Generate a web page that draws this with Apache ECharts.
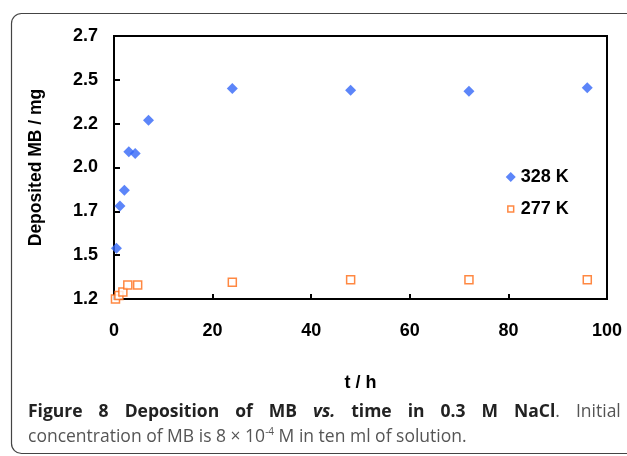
<!DOCTYPE html>
<html>
	<head>
		<meta charset="UTF-8">
		<title></title>
		<script src="https://cdn.jsdelivr.net/npm/echarts@6/dist/echarts.min.js" type="text/javascript" charset="utf-8"></script>
		<style>
			html, body { margin: 0; padding: 0; background: #fff; }
		</style>
	</head>
	<body>
		<div id="chart" style="width: 627px;height: 456px;"></div>
		<script type="text/javascript">
			// 数据
			var seriesNames = ['328 K', '277 K'];
			var hours328 = [0.5, 1.2, 2.1, 3, 4.3, 7, 24, 48, 72, 96];
			var values328 = [1.54, 1.78, 1.87, 2.09, 2.08, 2.27, 2.45, 2.44, 2.435, 2.455];
			var hours277 = [0.3, 1, 1.8, 2.8, 4.8, 24, 48, 72, 96];
			var values277 = [1.25, 1.27, 1.29, 1.33, 1.33, 1.345, 1.36, 1.36, 1.36];
			var yTickLabels = ['1.2', '1.5', '1.7', '2.0', '2.2', '2.5', '2.7'];

			function pairs(xs, ys) {
				var out = [];
				for (var i = 0; i < xs.length; i++) out.push([xs[i], ys[i]]);
				return out;
			}

			// 图注第一行两端对齐：词间插入固定宽度的空白
			var line1 = [
				['b', 'Figure'], ['b', '8'], ['b', 'Deposition'], ['b', 'of'], ['b', 'MB'],
				['bi', 'vs.'], ['b', 'time'], ['b', 'in'], ['b', '0.3'], ['b', 'M'],
				['b', 'NaCl', 'r', '.'], ['r', 'Initial']
			];
			var line1Text = line1.map(function (w) {
				var s = '{' + w[0] + '|' + w[1] + '}';
				if (w[2]) s += '{' + w[2] + '|' + w[3] + '}';
				return s;
			}).join('{sp| }');

			var chart = echarts.init(document.getElementById('chart'));
			var font = 'Liberation Sans, Arial, sans-serif';
			var cap = 'Open Sans';
			var option = {
				backgroundColor: '#fff',
				animation: false,
				grid: {
					left: 114, right: 20, top: 36, bottom: 157,
					show: true, borderColor: '#000', borderWidth: 2
				},
				legend: {
					orient: 'vertical',
					left: 500, top: 163,
					itemWidth: 10, itemHeight: 10,
					itemGap: 14,
					textStyle: {fontFamily: font, fontWeight: 'bold', fontSize: 18, color: '#000'},
					data: [
						{name: seriesNames[0]},
						// 小一点的空心方块（外框留白）
						{name: seriesNames[1], icon: 'path://M0,0L0.01,0M12,12L11.99,12M2.5,2.5H9.5V9.5H2.5Z', itemStyle: {borderWidth: 1.5}}
					]
				},
				xAxis: {
					type: 'value', min: 0, max: 100, interval: 20,
					name: 't / h', nameLocation: 'middle', nameGap: 75,
					nameTextStyle: {fontFamily: font, fontWeight: 'bold', fontSize: 18, color: '#000'},
					axisLine: {lineStyle: {color: '#000', width: 2}},
					axisTick: {inside: true, length: 5, lineStyle: {color: '#000', width: 2}},
					axisLabel: {fontFamily: font, fontWeight: 'bold', fontSize: 18, color: '#000', margin: 23},
					splitLine: {show: false}
				},
				yAxis: {
					type: 'value', min: 1.25, max: 2.75, interval: 0.25,
					name: 'Deposited MB / mg', nameLocation: 'middle', nameGap: 69,
					nameTextStyle: {fontFamily: font, fontWeight: 'bold', fontSize: 17.5, color: '#000'},
					axisLine: {lineStyle: {color: '#000', width: 2}},
					axisTick: {inside: true, length: 6, lineStyle: {color: '#000', width: 2}},
					axisLabel: {
						fontFamily: font, fontWeight: 'bold', fontSize: 18, color: '#000', margin: 16,
						formatter: function (v) {
							return yTickLabels[Math.round((v - 1.25) / 0.25)];
						}
					},
					splitLine: {show: false}
				},
				series: [
					{
						name: seriesNames[0], type: 'scatter', symbol: 'diamond', symbolSize: 11,
						itemStyle: {color: '#3366f8'},
						data: pairs(hours328, values328)
					},
					{
						name: seriesNames[1], type: 'scatter', symbol: 'rect', symbolSize: 8,
						itemStyle: {color: '#fff', borderColor: '#ff6a13', borderWidth: 1.5},
						data: pairs(hours277, values277)
					}
				],
				graphic: [
					{
						type: 'rect', silent: true,
						shape: {x: 11.5, y: 13.5, width: 700, height: 440, r: 10},
						style: {fill: null, stroke: '#444', lineWidth: 1.2}
					},
					{
						type: 'text', left: 28, top: 403,
						style: {
							text: line1Text,
							rich: {
								b: {fontFamily: cap, fontWeight: 'bold', fontSize: 17.5, fill: '#222'},
								bi: {fontFamily: cap, fontWeight: 'bold', fontStyle: 'italic', fontSize: 17.5, fill: '#222'},
								r: {fontFamily: cap, fontSize: 17.5, fill: '#555'},
								sp: {fontFamily: cap, fontSize: 17.5, width: 16}
							}
						}
					},
					{
						type: 'text', left: 28, top: 427,
						style: {
							text: '{r|concentration of MB is 8 × 10}{s|-4}{r| M in ten ml of solution.}',
							rich: {
								r: {fontFamily: cap, fontSize: 17.5, fill: '#555', lineHeight: 20},
								s: {fontFamily: cap, fontSize: 10, fill: '#555', verticalAlign: 'top', lineHeight: 14}
							}
						}
					}
				]
			};
			chart.setOption(option);
		</script>
	</body>
</html>
